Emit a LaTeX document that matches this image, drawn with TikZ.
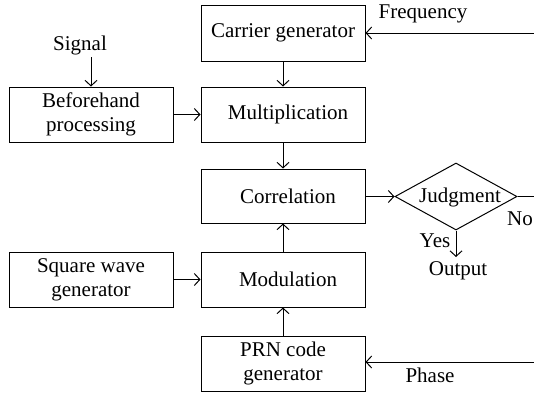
\documentclass[tikz,border=0pt]{standalone}
\usepackage{fontspec}
\setmainfont{Liberation Serif}
\usetikzlibrary{shapes.geometric,arrows.meta}
\begin{document}
\begin{tikzpicture}[x=1pt,y=-1pt,
  txt/.style={font=\fontsize{21}{24}\selectfont},
  blk/.style={draw,line width=1pt,minimum width=164pt,minimum height=55pt,align=center,inner sep=0pt,txt},
  lbl/.style={inner sep=0pt,txt},
  arr/.style={-{Straight Barb[length=5.5pt,width=12pt]},line width=1pt}]
\useasboundingbox (0,0) rectangle (534,394);
% blocks
\node[blk,minimum height=56pt] (carrier) at (283,33) {Carrier generator};
\node[blk] (mult) at (283,114.5) {\hspace*{10pt}Multiplication};
\node[blk] (pre) at (91,114.5) {Beforehand\\processing};
\node[blk,minimum height=54pt] (corr) at (283,196) {\hspace*{10pt}Correlation};
\node[blk] (sq) at (91,279.5) {Square wave\\generator};
\node[blk] (mod) at (283,279.5) {\hspace*{10pt}Modulation};
\node[blk] (prn) at (283,363.5) {PRN code\\generator};
\node[draw,line width=1pt,diamond,aspect=1.82,minimum width=122pt,minimum height=67pt,inner sep=0pt] (judge) at (456,196.5) {};
\node[lbl] (jtext) at (460,197) {Judgment};
% labels
\node[lbl] (signal) at (80,45) {Signal};
\node[lbl] (freq) at (423,14) {Frequency};
\node[lbl] (phase) at (430,375) {Phase};
\node[lbl] (no) at (520,219) {No};
\node[lbl] (yes) at (435,241) {Yes};
\node[lbl] (out) at (458,271) {Output};
% free ends
\coordinate (fin) at (534,33);
\coordinate (pin) at (534,362);
\coordinate (nout) at (534,196.5);
\coordinate (sigin) at (91,57);
\coordinate (yend) at (456,257);
% connectors
\draw[arr] (fin) -- (fin -| carrier.east);
\draw[arr] (pin) -- (pin -| prn.east);
\draw[line width=1pt] (judge.east) -- (nout);
\draw[arr] (sigin) -- (pre.north);
\draw[arr] (carrier) -- (mult);
\draw[arr] (pre) -- (mult);
\draw[arr] (mult) -- (corr);
\draw[arr] (corr.east |- judge.west) -- (judge.west);
\draw[arr] (judge.south) -- (yend);
\draw[arr] (sq) -- (mod);
\draw[arr] (mod) -- (corr);
\draw[arr] (prn) -- (mod);
\end{tikzpicture}
\end{document}
